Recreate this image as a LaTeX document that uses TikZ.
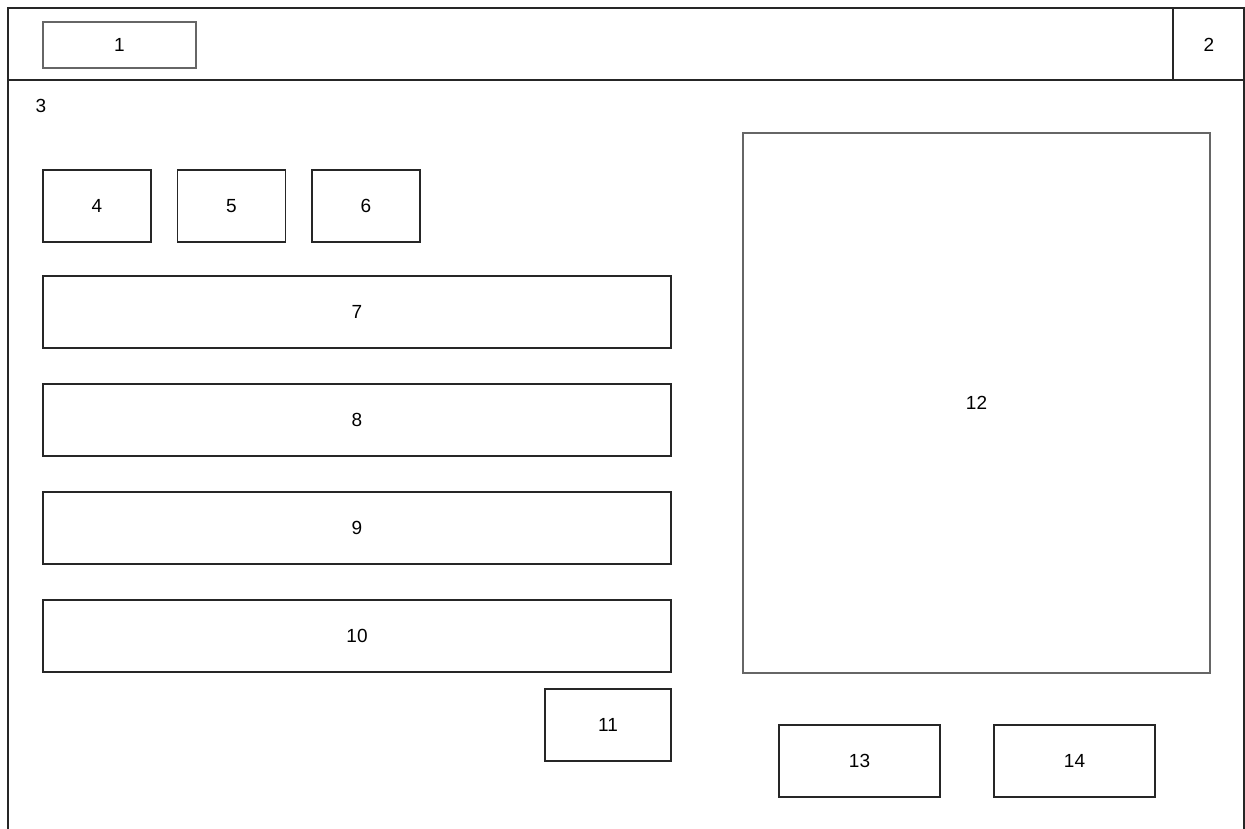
\documentclass[tikz,border=0pt]{standalone}
\usepackage{fontspec}
\setmainfont{Liberation Sans}
\begin{document}
\begin{tikzpicture}[x=1pt,y=-1pt,
  box/.style={draw=black!85,line width=1.1pt,rectangle,inner sep=0pt,font=\fontsize{19}{22}\selectfont},
  graybox/.style={box,draw=black!60,line width=1.5pt},
  lbl/.style={font=\fontsize{19}{22}\selectfont,inner sep=0pt}]
\useasboundingbox (0,0) rectangle (1245,829);
\fill[white] (0,0) rectangle (1245,829);
% outer frame (open at the bottom)
\draw[black!85,line width=1.4pt] (8,829) -- (8,8) -- (1244,8) -- (1244,829);
\draw[black!85,line width=1.2pt] (8,80) -- (1244,80);
\draw[black!85,line width=1.2pt] (1173,8) -- (1173,80);
\node[lbl] (n2) at (1209,45) {2};
\node[lbl] (n3) at (41,106) {3};
% boxes
\node[graybox,minimum width=153pt,minimum height=46pt] (b1) at (119.5,45) {1};
\node[box,minimum width=108pt,minimum height=72pt] (b4) at (97,206) {4};
\node[box,minimum width=108pt,minimum height=72pt] (b5) at (231.5,206) {5};
\node[box,minimum width=108pt,minimum height=72pt] (b6) at (366,206) {6};
\node[box,minimum width=628pt,minimum height=72pt] (b7) at (357,312) {7};
\node[box,minimum width=628pt,minimum height=72pt] (b8) at (357,420) {8};
\node[box,minimum width=628pt,minimum height=72pt] (b9) at (357,528) {9};
\node[box,minimum width=628pt,minimum height=72pt] (b10) at (357,636) {10};
\node[box,minimum width=126pt,minimum height=72pt] (b11) at (608,725) {11};
\node[graybox,minimum width=467pt,minimum height=540pt] (b12) at (976.5,403) {};
\node[lbl] at (b12.center) {12};
\node[box,minimum width=161pt,minimum height=72pt] (b13) at (859.5,761) {13};
\node[box,minimum width=161pt,minimum height=72pt] (b14) at (1074.5,761) {14};
\end{tikzpicture}
\end{document}
